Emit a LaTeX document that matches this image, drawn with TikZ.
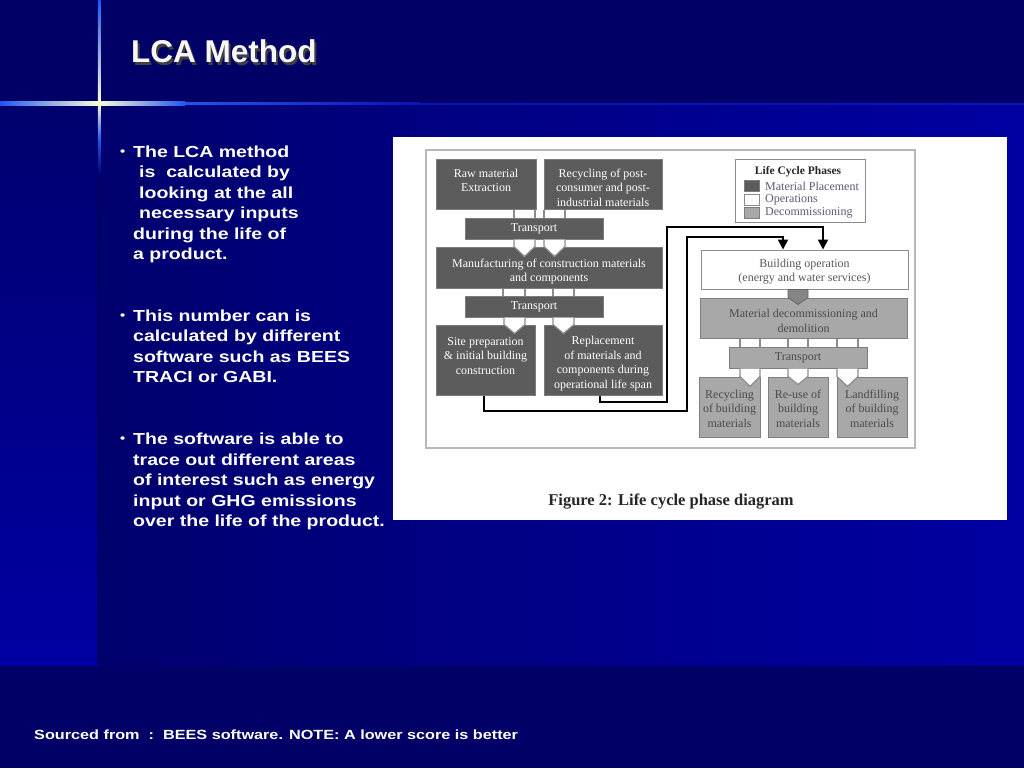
\documentclass[tikz,border=0pt]{standalone}
\usepackage{fontspec}
\setmainfont{Liberation Serif}
\newfontfamily\slidefont[FakeStretch=1.22]{Liberation Sans}
\newfontfamily\titlefont{Liberation Sans}
\usetikzlibrary{arrows.meta,calc}
\definecolor{bgdark}{HTML}{000066}
\definecolor{bgmid}{HTML}{00006E}
\definecolor{bgbright}{HTML}{0000A2}
\definecolor{glowb}{HTML}{2255EE}
\definecolor{glowc}{HTML}{FFFFD8}
\definecolor{bgline}{HTML}{0A14B4}
\definecolor{dkfill}{HTML}{5C5C5C}
\definecolor{dkedge}{HTML}{7C7C7C}
\definecolor{ltfill}{HTML}{A8A8A8}
\definecolor{ltedge}{HTML}{7E7E7E}
\definecolor{ltext}{HTML}{4A4A4A}
\definecolor{pipegray}{HTML}{8C8C8C}
\definecolor{framegray}{HTML}{B8B8B8}
\definecolor{legtext}{HTML}{5A5A78}
\definecolor{arrgray}{HTML}{858585}
\newcommand\diagfont{\fontsize{12}{14.5}\selectfont}
\newcommand\straightpipe[4]{%
  \coordinate (pl) at (#1,0); \coordinate (pr) at (#2,0);
  \fill[white] (pl |- #3.south) rectangle (pr |- #4.north);
  \draw[pipeline] (pl |- #3.south) -- (pl |- #4.north) (pr |- #3.south) -- (pr |- #4.north);}
\newcommand\chevpipe[5]{%
  \coordinate (pl) at (#1,0); \coordinate (pr) at (#2,0); \coordinate (pc) at ({(#1+#2)/2},0);
  \filldraw[pipeline,fill=white] (pl |- #3.south) -- (pl |- #4.north) -- ($(pc |- #4.north)+(0,#5)$) -- (pr |- #4.north) -- (pr |- #3.south);}
\begin{document}
\begin{tikzpicture}[x=1pt,y=-1pt,
  dk/.style={draw=dkedge, fill=dkfill, line width=1pt, inner sep=0pt},
  lt/.style={draw=ltedge, fill=ltfill, line width=1pt, inner sep=0pt},
  wt/.style={draw=pipegray, fill=white, line width=1pt, inner sep=0pt},
  dtxt/.style={inner sep=0pt, align=center, font=\diagfont, text=white},
  ltxt/.style={inner sep=0pt, align=center, font=\diagfont, text=ltext},
  pipeline/.style={draw=pipegray, line width=1.2pt, line join=miter},
  flow/.style={draw=black, line width=1.6pt, -{Triangle[width=10pt,length=10pt]}},
  bl/.style={anchor=base west, inner sep=0pt, text=white, font=\slidefont\bfseries\fontsize{16}{18}\selectfont},
  bdot/.style={anchor=base west, inner sep=0pt, text=white, font=\slidefont\bfseries\fontsize{12}{12}\selectfont},
  legitem/.style={anchor=west, inner sep=0pt, text=legtext, font=\fontsize{12}{14}\selectfont},
  legsq/.style={minimum width=15pt, minimum height=11pt, inner sep=0pt, line width=0.8pt}
]
\useasboundingbox (0,0) rectangle (1024,768);
% ---------- background ----------
\fill[bgdark] (0,0) rectangle (1024,768);
\shade[left color=bgmid, right color=bgbright] (98,103) rectangle (1024,665);
\shade[top color=bgmid, bottom color=bgbright] (0,103) rectangle (98,665);
\fill[bgdark!80!black, opacity=0.5] (97,103) rectangle (100,665);
% crosshair glow
\fill[bgline] (180,102.5) rectangle (1024,104.5);
\shade[left color=glowb, right color=glowc] (0,101.8) rectangle (99,105);
\shade[left color=glowc, right color=glowb] (99,101.8) rectangle (185,105);
\shade[left color=glowb, right color=bgline] (185,102.3) rectangle (420,104.7);
\shade[top color=glowb, bottom color=glowc] (97.8,0) rectangle (100.6,103);
\shade[top color=glowc, bottom color=glowb] (97.8,103) rectangle (100.6,140);
\shade[top color=glowb, bottom color=bgmid] (97.8,140) rectangle (100.6,175);
% ---------- title ----------
\node[anchor=base west, inner sep=0pt, text=black!75, font=\titlefont\bfseries\fontsize{31.5}{34}\selectfont] at (133,65) {LCA Method};
\node (title) [anchor=base west, inner sep=0pt, text=white!94!gray, font=\titlefont\bfseries\fontsize{31.5}{34}\selectfont] at (131,63) {LCA Method};
% ---------- bullets ----------
\node (d1) [bdot] at (120,155) {•};
\node (b11) [bl] at (133,157) {The LCA method};
\node (b12) [bl] at (139,177.5) {is~~calculated by};
\node (b13) [bl] at (139,198) {looking at the all};
\node (b14) [bl] at (139,218.5) {necessary inputs};
\node (b15) [bl] at (133,239) {during the life of};
\node (b16) [bl] at (133,259.5) {a product.};
\node (d2) [bdot] at (120,319) {•};
\node (b21) [bl] at (133,321) {This number can is};
\node (b22) [bl] at (133,341.5) {calculated by different};
\node (b23) [bl] at (133,362) {software such as BEES};
\node (b24) [bl] at (133,382.5) {TRACI or GABI.};
\node (d3) [bdot] at (120,442.5) {•};
\node (b31) [bl] at (133,444.5) {The software is able to};
\node (b32) [bl] at (133,465) {trace out different areas};
\node (b33) [bl] at (133,485.5) {of interest such as energy};
\node (b34) [bl] at (133,506) {input or GHG emissions};
\node (b35) [bl] at (133,526.5) {over the life of the product.};
% ---------- footer ----------
\node (foot) [anchor=base west, inner sep=0pt, text=white, font=\slidefont\bfseries\fontsize{13.3}{15}\selectfont] at (34,739.5) {Sourced from~~:~~BEES software. NOTE: A lower score is better};
% ---------- figure ----------
\fill[white] (393,137) rectangle (1007,520);
\draw[framegray, line width=1.6pt] (426,150) rectangle (915,448);
% boxes
\node (raw)  [dk, minimum width=100pt, minimum height=50pt] at (486,184) {};
\node (rec)  [dk, minimum width=118pt, minimum height=50pt] at (603,184) {};
\node (tr1)  [dk, minimum width=138pt, minimum height=21pt] at (534,228.5) {};
\node (man)  [dk, minimum width=226pt, minimum height=41pt] at (549,267.5) {};
\node (tr2)  [dk, minimum width=138pt, minimum height=21pt] at (534,306.5) {};
\node (site) [dk, minimum width=99pt, minimum height=70pt] at (485.5,360) {};
\node (repl) [dk, minimum width=118pt, minimum height=70pt] at (603,360) {};
\node (bop)  [wt, minimum width=207pt, minimum height=39pt] at (804.5,269.5) {};
\node (dec)  [lt, minimum width=207pt, minimum height=40pt] at (803.5,318) {};
\node (tr3)  [lt, minimum width=138pt, minimum height=21pt] at (798,357.5) {};
\node (rcy)  [lt, minimum width=61pt, minimum height=60pt] at (729.5,407) {};
\node (reu)  [lt, minimum width=60pt, minimum height=60pt] at (798,407) {};
\node (lan)  [lt, minimum width=70pt, minimum height=60pt] at (872,407) {};
% box texts
\node (rawt)  [dtxt] at ($(raw.center)+(0,-3.5)$) {Raw material\\Extraction};
\node (rect)  [dtxt] at ($(rec.center)+(0,3.5)$) {Recycling of post-\\consumer and post-\\industrial materials};
\node (tr1t)  [dtxt] at ($(tr1.center)+(0,0.5)$) {Transport};
\node (mant)  [dtxt] at ($(man.center)+(0,4)$) {Manufacturing of construction materials\\and components};
\node (tr2t)  [dtxt] at ($(tr2.center)+(0,0.5)$) {Transport};
\node (sitet) [dtxt] at ($(site.center)+(0,-4)$) {Site preparation\\\& initial building\\construction};
\node (replt) [dtxt] at ($(repl.center)+(0,3.5)$) {Replacement\\of materials and\\components during\\operational life span};
\node (bopt)  [ltxt, text=black!65] at ($(bop.center)+(0,2)$) {Building operation\\(energy and water services)};
\node (dect)  [ltxt] at ($(dec.center)+(0,3)$) {Material decommissioning and\\demolition};
\node (tr3t)  [ltxt] at ($(tr3.center)+(0,0.5)$) {Transport};
\node (rcyt)  [ltxt] at ($(rcy.center)+(0,1.5)$) {Recycling\\of building\\materials};
\node (reut)  [ltxt] at ($(reu.center)+(0,1.5)$) {Re-use of\\building\\materials};
\node (lant)  [ltxt] at ($(lan.center)+(0,1.5)$) {Landfilling\\of building\\materials};
% legend
\node (legend) [draw=pipegray, fill=white, line width=1pt, minimum width=130pt, minimum height=63pt, inner sep=0pt] at (800,190.5) {};
\node (legt) [inner sep=0pt, text=black!85, font=\bfseries\fontsize{11.5}{13}\selectfont] at (798,172) {Life Cycle Phases};
\node (sq1) [legsq, fill=dkfill, draw=dkedge] at (751.5,186) {};
\node (sq2) [legsq, fill=white, draw=pipegray] at (751.5,199.5) {};
\node (sq3) [legsq, fill=ltfill, draw=ltedge] at (751.5,213) {};
\node (lg1) [legitem] at (765,186) {Material Placement};
\node (lg2) [legitem] at (765,199.5) {Operations};
\node (lg3) [legitem] at (765,213) {Decommissioning};
% pipes
\straightpipe{514}{535}{raw}{tr1}
\straightpipe{544}{565}{rec}{tr1}
\chevpipe{514}{535}{tr1}{man}{10}
\chevpipe{544}{565}{tr1}{man}{10}
\straightpipe{503}{525}{man}{tr2}
\straightpipe{553}{574}{man}{tr2}
\chevpipe{504}{525}{tr2}{site}{9}
\chevpipe{553}{574}{tr2}{repl}{9}
\straightpipe{740}{760}{dec}{tr3}
\straightpipe{788}{808}{dec}{tr3}
\straightpipe{837}{858}{dec}{tr3}
\chevpipe{740}{760}{tr3}{rcy}{10}
\chevpipe{788}{808}{tr3}{reu}{8}
\chevpipe{837}{858}{tr3}{lan}{10}
% operation -> decommissioning
\coordinate (gl) at (788,0); \coordinate (gr) at (808,0); \coordinate (gc) at (798,0);
\filldraw[fill=arrgray, draw=black!60, line width=0.8pt] (gl |- bop.south) -- (gl |- dec.north) -- ($(gc |- dec.north)+(0,7)$) -- (gr |- dec.north) -- (gr |- bop.south) -- cycle;
% flows into building operation
\coordinate (ra) at (600,0); \coordinate (rb) at (823,0);
\coordinate (sa) at (484,0); \coordinate (sb) at (783,0);
\draw[flow] (ra |- repl.south) |- (667,402) |- (823,227) -- (rb |- bop.north);
\draw[flow] (sa |- site.south) |- (687,411) |- (783,237) -- (sb |- bop.north);
% caption
\node (cap) [inner sep=0pt, text=black!85, font=\bfseries\fontsize{16.5}{18}\selectfont] at (671,502) {Figure 2: Life cycle phase diagram};
\end{tikzpicture}
\end{document}
